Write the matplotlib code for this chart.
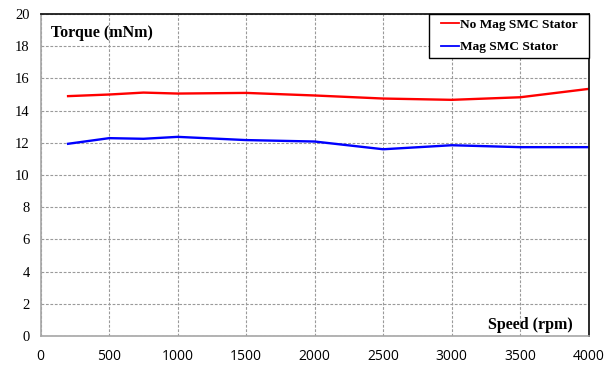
import matplotlib
matplotlib.use("Agg")
import matplotlib.pyplot as plt
from matplotlib.patches import Rectangle

speed = [200, 500, 750, 1000, 1500, 2000, 2500, 3000, 3500, 4000]
torque_no_mag = [14.90, 15.00, 15.12, 15.06, 15.10, 14.94, 14.75, 14.67, 14.83, 15.35]
torque_mag = [11.94, 12.29, 12.25, 12.37, 12.17, 12.08, 11.60, 11.85, 11.73, 11.73]
series_labels = ["No Mag SMC Stator", "Mag SMC Stator"]
x_ticks = [0, 500, 1000, 1500, 2000, 2500, 3000, 3500, 4000]
y_ticks = [0, 2, 4, 6, 8, 10, 12, 14, 16, 18, 20]

serif = "Liberation Serif"

fig = plt.figure(figsize=(6.07, 3.69), dpi=100)
ax = fig.add_axes([0.067, 0.0894, 0.903, 0.8726])

ax.plot(speed, torque_no_mag, color="#ff0000", lw=1.7, label=series_labels[0])
ax.plot(speed, torque_mag, color="#0000ff", lw=1.7, label=series_labels[1])

ax.set_xlim(0, 4000)
ax.set_ylim(0, 20)
ax.set_xticks(x_ticks)
ax.set_yticks(y_ticks)
ax.set_xticklabels([str(v) for v in x_ticks], family="Open Sans", fontsize=10)
ax.set_yticklabels([str(v) for v in y_ticks], family=serif, fontsize=10.5)
ax.tick_params(axis="both", length=0)
ax.tick_params(axis="x", pad=9)
ax.tick_params(axis="y", pad=8)

ax.grid(True, color="#9a9a9a", lw=0.8, linestyle=(0, (2.5, 1.5)))
ax.set_axisbelow(True)

for side in ("left", "bottom"):
    ax.spines[side].set_color("#a6a6a6")
    ax.spines[side].set_linewidth(1.2)
for side in ("top", "right"):
    ax.spines[side].set_color("#1a1a1a")
    ax.spines[side].set_linewidth(1.3)

ax.text(0.018, 0.94, "Torque (mNm)", transform=ax.transAxes, family=serif,
        fontweight="bold", fontsize=11.5, ha="left", va="center")
ax.text(0.97, 0.034, "Speed (rpm)", transform=ax.transAxes, family=serif,
        fontweight="bold", fontsize=11.5, ha="right", va="center")

# legend box drawn separately so its padding can differ horizontally/vertically
ax.add_patch(Rectangle((0.708, 0.863), 0.292, 0.137, transform=ax.transAxes,
                       facecolor="white", edgecolor="black", lw=1.0,
                       zorder=5, clip_on=False))
leg = ax.legend(loc="center left", bbox_to_anchor=(0.731, 0.932),
                borderaxespad=0, borderpad=0, frameon=False,
                prop={"family": serif, "weight": "bold", "size": 9.6},
                handlelength=1.3, handletextpad=0.1, labelspacing=0.78)
leg.set_zorder(6)
for line in leg.get_lines():
    line.set_linewidth(1.3)

fig.savefig("out.png", dpi=100)
